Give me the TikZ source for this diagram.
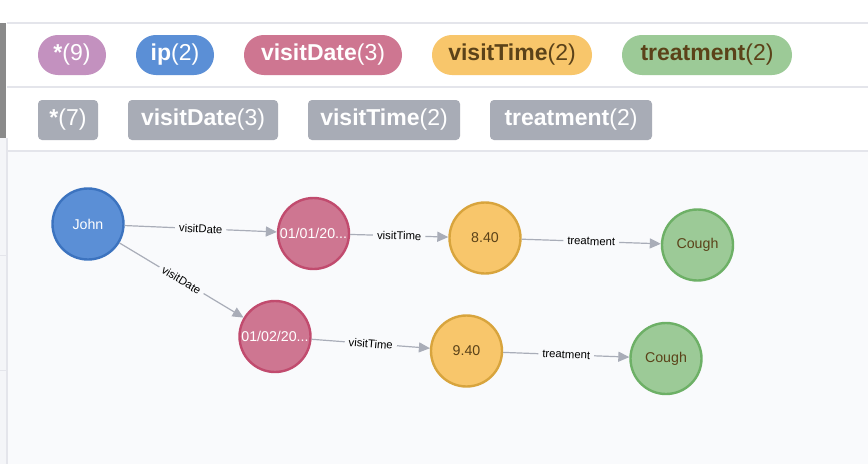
\documentclass[tikz,border=0pt]{standalone}
\usepackage{fontspec}
\setmainfont{Liberation Sans}
\usetikzlibrary{arrows.meta}
\definecolor{canvasbg}{HTML}{F9FAFC}
\definecolor{sepline}{HTML}{E4E5EB}
\definecolor{darkbar}{HTML}{8A8A8A}
\definecolor{leftstrip}{HTML}{F4F5F8}
\definecolor{cpurple}{HTML}{C391BF}
\definecolor{cblue}{HTML}{5B8FD6}
\definecolor{cblueb}{HTML}{3C73BF}
\definecolor{cpink}{HTML}{CE7691}
\definecolor{cpinkb}{HTML}{C14B6E}
\definecolor{cyellow}{HTML}{F8C66B}
\definecolor{cyellowb}{HTML}{D8A43D}
\definecolor{cgreen}{HTML}{9CCA97}
\definecolor{cgreenb}{HTML}{6DB066}
\definecolor{cgray}{HTML}{A8ACB6}
\definecolor{cbrown}{HTML}{5B4219}
\definecolor{edgec}{HTML}{A9ADB8}
\tikzset{
  pill/.style={rounded corners=19.9pt, minimum height=40pt, inner sep=0pt, text=white,
    font=\fontsize{23}{25}\selectfont},
  tagbox/.style={rounded corners=4pt, minimum height=40pt, inner sep=0pt, fill=cgray, text=white,
    font=\fontsize{23}{25}\selectfont},
  vnode/.style={circle, minimum size=71pt, inner sep=0pt, line width=2.4pt,
    font=\fontsize{14.2}{16}\selectfont},
  person/.style={vnode, fill=cblue, draw=cblueb, text=white},
  datenode/.style={vnode, fill=cpink, draw=cpinkb, text=white},
  timenode/.style={vnode, fill=cyellow, draw=cyellowb, text=cbrown},
  treatnode/.style={vnode, fill=cgreen, draw=cgreenb, text=cbrown},
  rel/.style={draw=edgec, line width=1.2pt, -{Triangle[length=11pt,width=10pt]}},
  rellabel/.style={sloped, fill=canvasbg, inner xsep=4pt, inner ysep=1pt, text=black,
    font=\fontsize{11.3}{12}\selectfont}
}
\begin{document}
\begin{tikzpicture}[x=1pt,y=-1pt]
\useasboundingbox (0,0) rectangle (868,464);
% backgrounds
\fill[white] (0,0) rectangle (868,464);
\fill[canvasbg] (7,151) rectangle (868,464);
\fill[leftstrip] (0,138) rectangle (7,464);
\fill[darkbar] (0,23) rectangle (6,138);
\draw[sepline, line width=1.5pt] (7,138) -- (7,464);
\draw[sepline, line width=1.5pt] (7,23) -- (868,23);
\draw[sepline, line width=1.5pt] (7,87) -- (868,87);
\draw[sepline, line width=1.5pt] (7,151) -- (868,151);
\draw[sepline, line width=1pt] (0,255) -- (7,255);
\draw[sepline, line width=1pt] (0,370) -- (7,370);
% row 1 pills
\node[pill, fill=cpurple, minimum width=68pt] (p1) at (72,55) {{\bfseries *}(9)};
\node[pill, fill=cblue, minimum width=78pt] (p2) at (175,55) {{\bfseries ip}(2)};
\node[pill, fill=cpink, minimum width=158pt] (p3) at (323,55) {{\bfseries visitDate}(3)};
\node[pill, fill=cyellow, text=cbrown, minimum width=160pt] (p4) at (512,55) {{\bfseries visitTime}(2)};
\node[pill, fill=cgreen, text=cbrown, minimum width=170pt] (p5) at (707,55) {{\bfseries treatment}(2)};
% row 2 tags
\node[tagbox, minimum width=60pt] (r1) at (68,120) {{\bfseries *}(7)};
\node[tagbox, minimum width=150pt] (r2) at (203,120) {{\bfseries visitDate}(3)};
\node[tagbox, minimum width=152pt] (r3) at (384,120) {{\bfseries visitTime}(2)};
\node[tagbox, minimum width=162pt] (r4) at (571,120) {{\bfseries treatment}(2)};
% graph nodes
\node[person] (john) at (88,224) {John};
\node[datenode] (d1) at (313.5,233.5) {01/01/20...};
\node[timenode] (t1) at (485,238) {8.40};
\node[treatnode] (c1) at (697.5,245) {Cough};
\node[datenode] (d2) at (275,336.5) {01/02/20...};
\node[timenode] (t2) at (466.5,351) {9.40};
\node[treatnode] (c2) at (666,358.5) {Cough};
% edges
\draw[rel] (john) -- node[rellabel] {visitDate} (d1);
\draw[rel] (john) -- node[rellabel] {visitDate} (d2);
\draw[rel] (d1) -- node[rellabel] {visitTime} (t1);
\draw[rel] (t1) -- node[rellabel] {treatment} (c1);
\draw[rel] (d2) -- node[rellabel] {visitTime} (t2);
\draw[rel] (t2) -- node[rellabel] {treatment} (c2);
\end{tikzpicture}
\end{document}
